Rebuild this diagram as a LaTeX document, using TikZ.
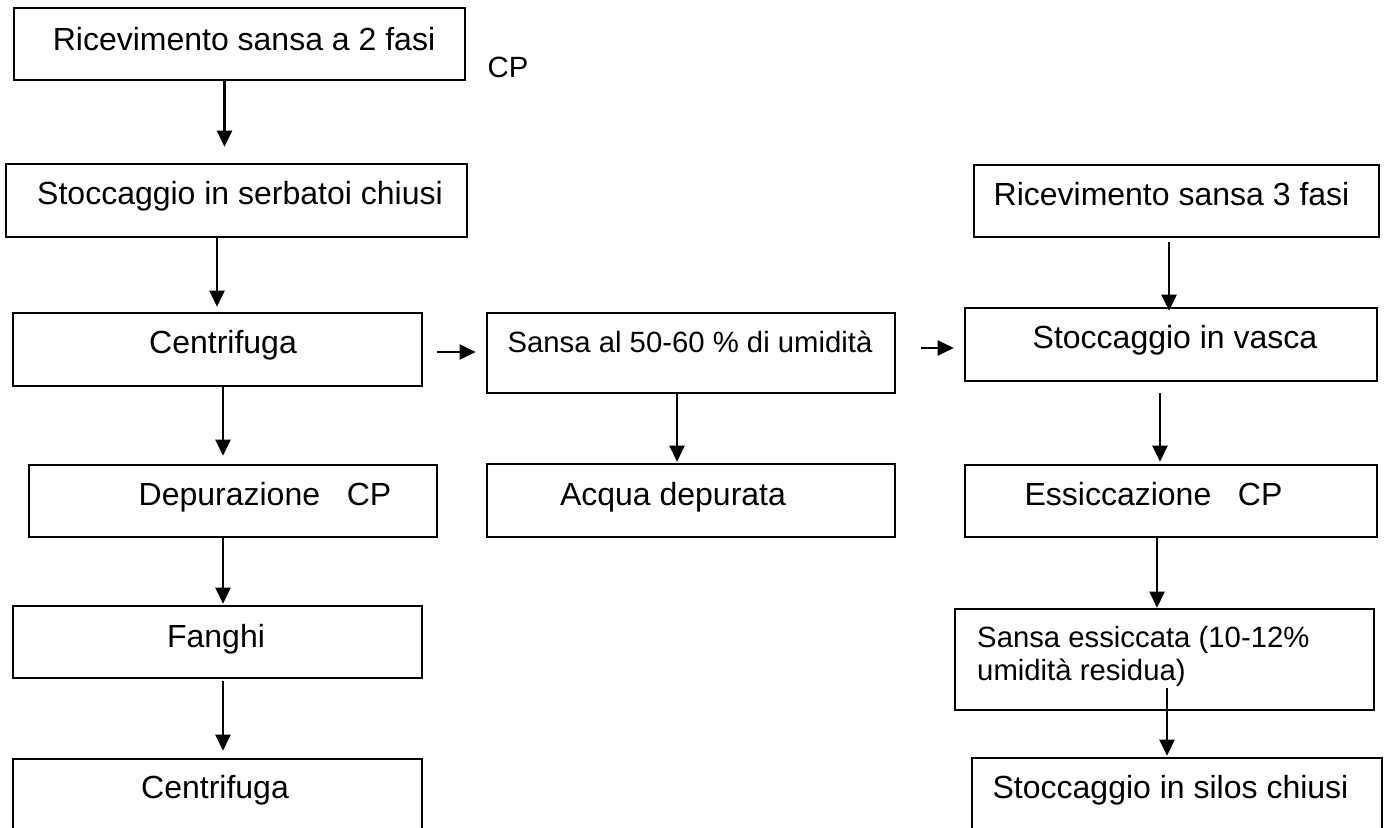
\documentclass[tikz,border=0pt]{standalone}
\usepackage{fontspec}
\setmainfont{Liberation Sans}
\usetikzlibrary{arrows.meta}
\begin{document}
\begin{tikzpicture}[x=1pt,y=-1pt,
  box/.style={draw, line width=2.6pt, inner sep=0pt},
  arr/.style={line width=2.3pt, -{Triangle[length=16pt,width=15pt]}},
  txt/.style={inner sep=0pt, anchor=base, font=\fontsize{32}{37}\selectfont},
  txts/.style={inner sep=0pt, anchor=base, font=\fontsize{29.3}{33}\selectfont}]
\useasboundingbox (0,0) rectangle (1386,827);
\fill[white] (0,0) rectangle (1386,827);
\clip (0,0) rectangle (1386,827);

% boxes
\node[box, minimum width=451pt, minimum height=72pt] (b1) at (239.5,44) {};
\node[box, minimum width=461pt, minimum height=73pt] (b2) at (236.5,200.5) {};
\node[box, minimum width=409pt, minimum height=73pt] (b3) at (217.5,349.5) {};
\node[box, minimum width=408pt, minimum height=80pt] (b4) at (691,353) {};
\node[box, minimum width=405pt, minimum height=72pt] (b5) at (1176.5,201) {};
\node[box, minimum width=412pt, minimum height=73pt] (b6) at (1171,344.5) {};
\node[box, minimum width=408pt, minimum height=72pt] (b7) at (233,501) {};
\node[box, minimum width=408pt, minimum height=73pt] (b8) at (691,500.5) {};
\node[box, minimum width=412pt, minimum height=72pt] (b9) at (1171,501) {};
\node[box, minimum width=409pt, minimum height=72pt] (b10) at (217.5,642) {};
\node[box, minimum width=419pt, minimum height=101pt] (b11) at (1164.5,659.5) {};
\node[box, minimum width=409pt, minimum height=86pt] (b12) at (217.5,802) {};
\node[box, minimum width=410pt, minimum height=87pt] (b13) at (1177,801.5) {};

% texts
\node[txt] (t1) at (244,50) {Ricevimento sansa a 2 fasi};
\node[txts] (tcp) at (508,77) {CP};
\node[txt] (t2) at (240,204) {Stoccaggio in serbatoi chiusi};
\node[txt] (t3) at (223,353) {Centrifuga};
\node[txts] (t4) at (690,352) {Sansa al 50-60 \% di umidità};
\node[txt] (t5) at (1171.5,205) {Ricevimento sansa 3 fasi};
\node[txt] (t6) at (1175,348) {Stoccaggio in vasca};
\node[txt] (t7) at (265,505) {Depurazione~~~CP};
\node[txt] (t8) at (673,505) {Acqua depurata};
\node[txt] (t9) at (1153.5,505) {Essiccazione~~~CP};
\node[txt] (t10) at (216,647) {Fanghi};
\node[txts, anchor=base west] (t11) at (977,647) {\begin{tabular}[t]{@{}l@{}}Sansa essiccata (10-12\%\\umidità residua)\end{tabular}};
\node[txt] (t12) at (215,798) {Centrifuga};
\node[txt] (t13) at (1170.5,798) {Stoccaggio in silos chiusi};

% connectors
\draw[arr, shorten >=16pt] (b1.south -| 224.5,0) -- (b2.north -| 224.5,0);
\draw[arr, shorten >=5pt] (b2.south -| 217,0) -- (b3.north -| 217,0);
\draw[arr, shorten >=8pt] (b3.south -| 223,0) -- (b7.north -| 223,0);
\draw[arr, shorten <=14pt, shorten >=10pt] (b3.east |- 0,352) -- (b4.west |- 0,352);
\draw[arr, shorten >=1pt] (b4.south -| 677,0) -- (b8.north -| 677,0);
\draw[arr, shorten <=25pt, shorten >=10pt] (b4.east |- 0,348) -- (b6.west |- 0,348);
\draw[arr, shorten <=4pt, shorten >=-4pt] (b5.south -| 1169,0) -- (b6.north -| 1169,0);
\draw[arr, shorten <=11pt, shorten >=2pt] (b6.south -| 1160,0) -- (b9.north -| 1160,0);
\draw[arr, shorten >=1pt] (b7.south -| 223,0) -- (b10.north -| 223,0);
\draw[arr, shorten <=2pt, shorten >=7pt] (b10.south -| 223,0) -- (b12.north -| 223,0);
\draw[arr] (b9.south -| 1157,0) -- (b11.north -| 1157,0);
\draw[arr, shorten <=-23pt, shorten >=1pt] (b11.south -| 1167,0) -- (b13.north -| 1167,0);
\end{tikzpicture}
\end{document}
